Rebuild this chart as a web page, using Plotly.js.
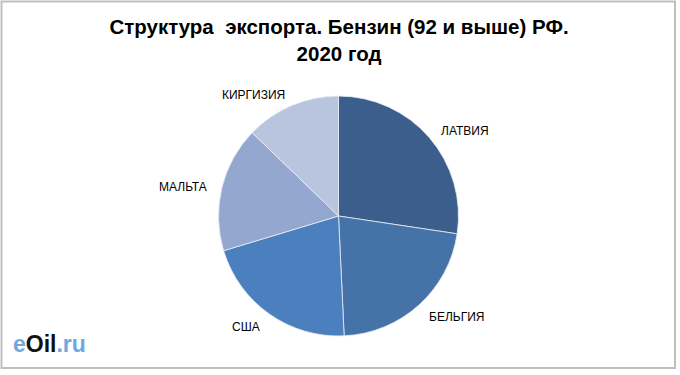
<!DOCTYPE html>
<html><head><meta charset="utf-8">
<script src="https://cdn.plot.ly/plotly-3.0.1.min.js"></script>
<style>html,body{margin:0;padding:0;background:#fff}#chart{width:680px;height:375px}</style>
</head><body><div id="chart"></div>
<script>
const countries = ["ЛАТВИЯ", "БЕЛЬГИЯ", "США", "МАЛЬТА", "КИРГИЗИЯ"];
const shares = [27.4, 21.9, 21.1, 16.9, 12.8];
const colors = ["#3B5E8C", "#4572A7", "#4C7FBE", "#94A7CE", "#B9C5DF"];
const titleText = "Структура  экспорта. Бензин (92 и выше) РФ.<br>2020 год";

const W = 680, H = 375;
const cx = 338.5, cy = 216, R = 120, labelR = 134;

// label annotations placed along each slice's mid-angle (computed from data)
const total = shares.reduce((a, b) => a + b, 0);
let acc = 0;
const labelAnns = countries.map((c, i) => {
  const mid = (acc + shares[i] / 2) / total * 2 * Math.PI;
  acc += shares[i];
  const s = Math.sin(mid), co = Math.cos(mid);
  const px = cx + labelR * s, py = cy - labelR * co + 2;
  return {
    text: c, xref: 'paper', yref: 'paper', x: px / W, y: 1 - py / H,
    xanchor: s > 0.1 ? 'left' : (s < -0.1 ? 'right' : 'center'),
    yanchor: 'middle',
    showarrow: false, borderpad: 0,
    font: {family: 'Liberation Sans, Arial, sans-serif', size: 12, color: '#000'}
  };
});

const data = [{
  type: 'pie',
  labels: countries,
  values: shares,
  sort: false,
  direction: 'clockwise',
  rotation: 0,
  textinfo: 'none',
  hoverinfo: 'label+percent',
  marker: {colors: colors, line: {color: '#e8eef6', width: 0.8}},
  domain: {x: [(cx - R) / W, (cx + R) / W], y: [1 - (cy + R) / H, 1 - (cy - R) / H]},
  showlegend: false
}];

const layout = {
  width: W, height: H,
  margin: {l: 0, r: 0, t: 0, b: 0},
  paper_bgcolor: '#fff',
  title: {
    text: '<b>' + titleText + '</b>',
    x: 339 / W, xanchor: 'center', y: 1 - 34 / H, yanchor: 'middle',
    font: {family: 'Liberation Sans, Arial, sans-serif', size: 20.5, color: '#000'}
  },
  shapes: [{
    type: 'rect', xref: 'paper', yref: 'paper',
    x0: 1.5 / W, x1: 675 / W, y0: 1 - 368 / H, y1: 1 - 1.5 / H,
    line: {color: '#BFBFBF', width: 2}
  }],
  annotations: labelAnns.concat([{
    text: '<b><span style="color:#6FA8DC">e</span><span style="color:#111">Oil</span><span style="color:#6FA8DC">.ru</span></b>',
    xref: 'paper', yref: 'paper', x: 11 / W, y: 1 - 359 / H,
    xanchor: 'left', yanchor: 'bottom', showarrow: false,
    font: {family: 'Liberation Sans, Arial, sans-serif', size: 23, color: '#6FA8DC'}
  }])
};

Plotly.newPlot('chart', data, layout, {displayModeBar: false, staticPlot: true});
</script></body></html>
